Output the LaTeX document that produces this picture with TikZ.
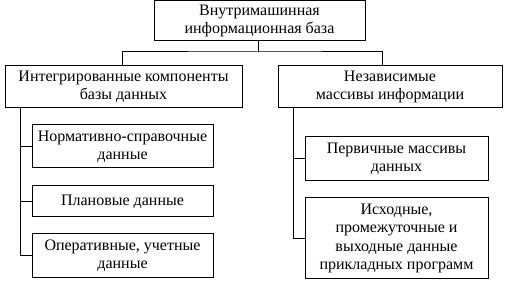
\documentclass[tikz,border=0pt]{standalone}
\usepackage{fontspec}
\setmainfont{Liberation Serif}
\usetikzlibrary{calc}
\begin{document}
\begin{tikzpicture}[x=1pt,y=-1pt,
  box/.style={draw,line width=1pt,align=center,inner sep=0pt,font=\fontsize{16}{18}\selectfont},
  conn/.style={line width=1pt}]
\useasboundingbox (0,0) rectangle (507,283);
\node[box,minimum width=211,minimum height=40] (top) at (259.5,21) {Внутримашинная\\информационная база};
\node[box,minimum width=237,minimum height=42] (left) at (123.5,87) {Интегрированные компоненты\\базы данных};
\node[box,minimum width=224,minimum height=42] (right) at (390,87) {Независимые\\массивы информации};
\node[box,minimum width=181,minimum height=43] (l1) at (122.5,146.5) {Нормативно-справочные\\данные};
\node[box,minimum width=181,minimum height=31] (l2) at (122.5,201.5) {Плановые данные};
\node[box,minimum width=181,minimum height=44] (l3) at (122.5,256) {Оперативные, учетные\\данные};
\node[box,minimum width=183,minimum height=44] (r1) at (396.5,159) {Первичные массивы\\данных};
\node[box,minimum width=183,minimum height=81,font=\fontsize{16}{18.5}\selectfont] (r2) at (396.5,238.5) {Исходные,\\промежуточные и\\выходные данные\\прикладных программ};
\coordinate (j) at (258,52);
\coordinate (ls) at (20,108);
\coordinate (rs) at (293,108);
\draw[conn] (top.south -| j) -- (j);
\draw[conn] ($(left.north)+(-1.5,0)$) |- (j) -| ($(right.north)+(-8,0)$);
\draw[conn] (ls) |- (l3.west);
\draw[conn] (ls |- l1.west) -- (l1.west);
\draw[conn] (ls |- l2.west) -- (l2.west);
\draw[conn] (rs) |- (r2.west);
\draw[conn] (rs |- r1.west) -- (r1.west);
\end{tikzpicture}
\end{document}
